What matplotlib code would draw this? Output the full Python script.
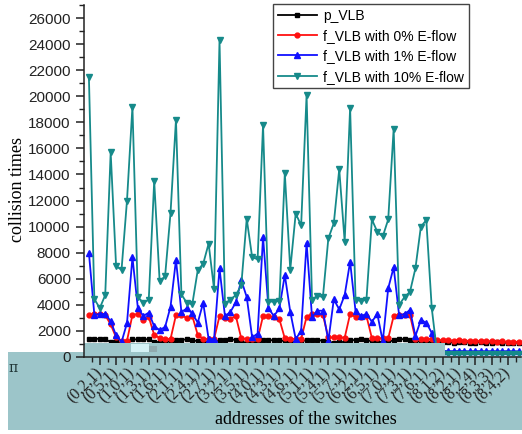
import numpy as np
import matplotlib
matplotlib.use("Agg")
import matplotlib.pyplot as plt
from matplotlib.patches import Polygon, Rectangle
from matplotlib.ticker import MultipleLocator, FixedLocator

# --- data (80 switches, labels every 3rd) ---
tick_idx = list(range(2, 80, 3))
tick_labels = ["(0,2,1)", "(0,5,1)", "(1,0,1)", "(1,3,1)", "(1,6,1)", "(2,1,1)",
               "(2,4,1)", "(2,7,1)", "(3,2,1)", "(3,5,1)", "(4,0,1)", "(4,3,1)",
               "(4,6,1)", "(5,1,1)", "(5,4,1)", "(5,7,1)", "(6,2,1)", "(6,5,1)",
               "(7,0,1)", "(7,3,1)", "(7,6,1)", "(8,1,2)", "(8,2,1)", "(8,2,4)",
               "(8,3,3)", "(8,4,2)"]

p_vlb = [1350, 1380, 1400, 1350, 1150, 1150, 1100, 1150,
         1350, 1350, 1380, 1350, 1150, 1150, 1150, 1200,
         1300, 1320, 1350, 1300, 1200, 1150, 1150, 1150,
         1300, 1300, 1350, 1300, 1150, 1100, 1100, 1150,
         1300, 1280, 1300, 1300, 1200, 1150, 1150, 1200,
         1300, 1320, 1300, 1250, 1150, 1100, 1150, 1150,
         1300, 1300, 1350, 1300, 1200, 1150, 1150, 1150,
         1300, 1350, 1380, 1300, 1200, 1200, 1150, 1150,
         1150, 1150, 1150, 1100, 1150, 1150, 1100, 1100,
         1150, 1100, 1100, 1150, 1100, 1100, 1100, 1100]

f_vlb_0 = [3200, 3300, 3300, 3200, 2500, 1500, 1250, 1250,
           3220, 3300, 2850, 3060, 1700, 1450, 1380, 1380,
           3220, 3220, 2970, 3140, 1700, 1380, 1380, 1380,
           3140, 3000, 2950, 3140, 1430, 1380, 1380, 1380,
           3140, 3140, 3050, 2900, 1430, 1400, 1380, 1380,
           3080, 3300, 3300, 3220, 1500, 1500, 1500, 1480,
           3300, 3060, 3060, 3140, 1450, 1430, 1430, 1430,
           3140, 3220, 3220, 3220, 1380, 1380, 1380, 1380,
           1300, 1280, 1300, 1250, 1280, 1250, 1230, 1250,
           1200, 1220, 1200, 1180, 1200, 1150, 1180, 1150]

f_vlb_1 = [8000, 3250, 3300, 3300, 2750, 1650, 1150, 2600,
           7650, 3750, 3150, 3400, 2350, 2070, 2300, 3860,
           7450, 3450, 3730, 3350, 2630, 4160, 1380, 1380,
           6800, 3140, 3450, 4200, 5900, 4600, 1500, 1800,
           9200, 3730, 3140, 3730, 6290, 3470, 1380, 2000,
           8770, 3060, 3550, 3550, 1230, 4420, 3650, 4750,
           7310, 3500, 3140, 3300, 2710, 3300, 1200, 5270,
           6880, 3220, 3300, 3600, 1610, 2840, 2630, 1850,
           480, 460, 450, 450, 460, 450, 440, 450,
           450, 440, 450, 440, 440, 450, 440, 440]

f_vlb_10 = [21500, 4450, 3750, 4750, 15700, 6950, 6700, 12000,
            19200, 4600, 4150, 4400, 13500, 5800, 6200, 11050,
            18200, 4800, 4150, 4050, 6650, 7150, 8700, 5200,
            24300, 4100, 4400, 4750, 5500, 10600, 7650, 7500,
            17800, 4250, 4250, 4300, 14100, 6700, 11000, 10100,
            20100, 4400, 4700, 4600, 9100, 10250, 14400, 8850,
            19100, 4400, 4300, 4400, 10550, 9600, 9250, 10550,
            17500, 4000, 4600, 5000, 6800, 10000, 10500, 3750,
            230, 230, 230, 230, 230, 230, 230, 230,
            230, 230, 230, 230, 230, 230, 230, 230]

x = np.arange(len(p_vlb))

W, H = 522, 434
fig = plt.figure(figsize=(W / 100, H / 100), dpi=100)
fig.patch.set_facecolor("white")
ax = fig.add_axes([84 / W, 77 / H, 437 / W, 352 / H])
ax.set_axisbelow(False)

series = [
    (p_vlb, "p_VLB", "black", "s", 3),
    (f_vlb_0, "f_VLB with 0% E-flow", "#ff1010", "o", 3.5),
    (f_vlb_1, "f_VLB with 1% E-flow", "#1010ff", "^", 4),
    (f_vlb_10, "f_VLB with 10% E-flow", "#168a8a", "v", 4),
]
for vals, lab, col, mk, ms in series:
    ax.plot(x, vals, color=col, marker=mk, markersize=ms, linewidth=1.3, label=lab)

# pale teal band from the screenshot
def fp(px, py):
    return (px / W, 1 - py / H)

band = Polygon([fp(8, 352), fp(84, 352), fp(84, 343), fp(445, 343), fp(445, 356),
                fp(522, 356), fp(522, 430), fp(8, 430)],
               closed=True, transform=fig.transFigure, facecolor="#9cc5c9",
               edgecolor="none", zorder=2.2, clip_on=False)
ax.add_artist(band)
ax.add_artist(Rectangle(fp(131, 352), 18 / W, 8 / H, transform=fig.transFigure,
                        facecolor="#d4f2f6", edgecolor="none", zorder=2.3, clip_on=False))
ax.add_artist(Rectangle(fp(149, 352), 8 / W, 6 / H, transform=fig.transFigure,
                        facecolor="#8fa9ad", edgecolor="none", zorder=2.3, clip_on=False))
fig.text(13 / W, 1 - 368 / H, "π", fontsize=10, color="#1f3535", ha="center", va="center",
         family="DejaVu Serif")

ax.set_xlim(-0.9, 79.4)
ax.set_ylim(0, 27000)
ax.yaxis.set_minor_locator(MultipleLocator(1000))
ax.set_yticks(np.arange(0, 26001, 2000))
ax.xaxis.set_major_locator(FixedLocator(tick_idx))
ax.xaxis.set_minor_locator(FixedLocator(np.arange(0.5, 80, 1.5)))
ax.set_xticklabels(tick_labels, rotation=45, ha="right", va="center",
                   rotation_mode="anchor", family="Liberation Serif", fontsize=11.5)
for t in ax.get_yticklabels():
    t.set_family("Liberation Sans")
    t.set_fontsize(11)

ax.tick_params(axis="both", which="major", direction="out", length=6, width=1.1, colors="#222222")
ax.tick_params(axis="both", which="minor", direction="out", length=3.5, width=1.0, colors="#222222")
ax.tick_params(axis="x", which="major", pad=4)

for s in ["top", "right"]:
    ax.spines[s].set_visible(False)
for s in ["left", "bottom"]:
    ax.spines[s].set_color("#222222")
    ax.spines[s].set_linewidth(1.1)

ax.set_ylabel("collision times", family="Liberation Serif", fontsize=13)
ax.set_xlabel("addresses of the switches", family="Liberation Serif", fontsize=13)
ax.xaxis.set_label_coords((306 - 84) / 437, -(411 - 357) / 352)
ax.yaxis.set_label_coords(-(84 - 26) / 437, (357 - 190) / 352)

leg = ax.legend(loc="upper left", bbox_to_anchor=(0.432, 1.003), frameon=True,
                fancybox=False, framealpha=1, edgecolor="#444444",
                prop={"family": "Liberation Sans", "size": 10},
                handlelength=2.8, labelspacing=0.45, borderpad=0.35,
                handletextpad=0.5, borderaxespad=0)
leg.get_frame().set_linewidth(1.0)
leg.set_zorder(5)

fig.savefig("out.png", dpi=100)
